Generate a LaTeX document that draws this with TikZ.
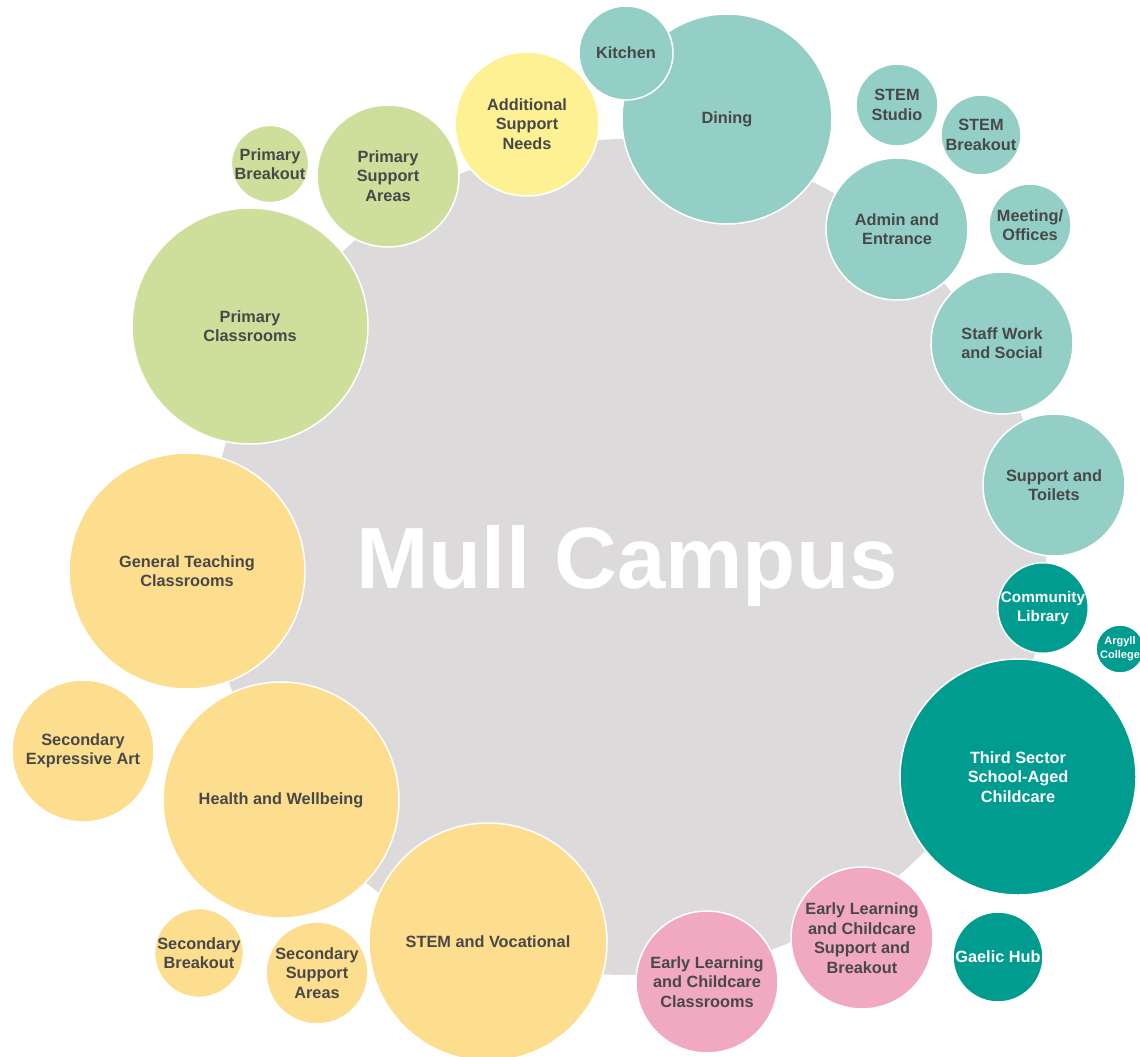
\documentclass[tikz,border=0pt]{standalone}
\usepackage{fontspec}
\setmainfont{Liberation Sans}
\definecolor{campusgrey}{HTML}{DCDADB}
\definecolor{primgreen}{HTML}{CEDF9B}
\definecolor{asnyellow}{HTML}{FDF193}
\definecolor{lightteal}{HTML}{93CFC7}
\definecolor{darkteal}{HTML}{009C90}
\definecolor{secyellow}{HTML}{FDDD8E}
\definecolor{elcpink}{HTML}{F1A9C1}
\definecolor{labelgrey}{HTML}{484848}
\tikzset{
  bubble/.style={circle, draw=white, line width=1.5pt, inner sep=0pt, align=center,
    text=labelgrey, font=\bfseries\fontsize{16.3}{19.5}\selectfont},
  green/.style={bubble, fill=primgreen},
  yellow/.style={bubble, fill=asnyellow},
  lteal/.style={bubble, fill=lightteal},
  dteal/.style={bubble, fill=darkteal, text=white},
  orange/.style={bubble, fill=secyellow},
  pink/.style={bubble, fill=elcpink},
  sz/.style={minimum size=#1*2pt}
}
\begin{document}
\begin{tikzpicture}[x=1pt,y=-1pt]
\useasboundingbox (0,0) rectangle (1140,1057);
\clip (0,0) rectangle (1140,1057);
\fill[white] (0,0) rectangle (1140,1057);
\node[circle, fill=campusgrey, inner sep=0pt, minimum size=836pt] (campus) at (628,557) {};
\node[anchor=base, text=white, font=\bfseries\fontsize{87}{87}\selectfont] (title) at (627,588) {Mull Campus};
% green
\node[green, sz=38] (pb) at (270,164) {Primary\\Breakout};
\node[green, sz=71] (psa) at (388,176) {Primary\\Support\\Areas};
\node[green, sz=118] (pc) at (250,326) {Primary\\Classrooms};
% yellow
\node[yellow, sz=72] (asn) at (527,124) {Additional\\Support\\Needs};
% light teal
\node[lteal, sz=105] (dining) at (727,119) {Dining};
\node[lteal, sz=47] (kitchen) at (626,53) {Kitchen};
\node[lteal, sz=41] (stemstudio) at (897,105) {STEM\\Studio};
\node[lteal, sz=40] (stembreak) at (981,135) {STEM\\Breakout};
\node[lteal, sz=71] (admin) at (897,229) {Admin and\\Entrance};
\node[lteal, sz=41] (meeting) at (1030,225) {Meeting/\\Offices};
\node[lteal, sz=71] (staff) at (1002,343) {Staff Work\\and Social};
\node[lteal, sz=71] (toilets) at (1054,485) {Support and\\Toilets};
% dark teal
\node[dteal, sz=45, font=\bfseries\fontsize{15.3}{19}\selectfont] (library) at (1043,608) {Community\\Library};
\node[dteal, sz=24, font=\bfseries\fontsize{11}{14}\selectfont] (argyll) at (1120,649) {Argyll\\College};
\node[dteal, sz=118] (third) at (1018,777) {Third Sector\\School-Aged\\Childcare};
\node[dteal, sz=45] (gaelic) at (998,957) {Gaelic Hub};
% pink
\node[pink, sz=71] (elcsb) at (862,938) {Early Learning\\and Childcare\\Support and\\Breakout};
\node[pink, sz=71] (elcc) at (707,982) {Early Learning\\and Childcare\\Classrooms};
% orange
\node[orange, sz=118] (gtc) at (187,571) {General Teaching\\Classrooms};
\node[orange, sz=71] (sea) at (83,751) {Secondary\\Expressive Art};
\node[orange, sz=118] (hw) at (281,800) {Health and Wellbeing};
\node[orange, sz=44] (sb) at (199,953) {Secondary\\Breakout};
\node[orange, sz=51] (ssa) at (317,973) {Secondary\\Support\\Areas};
\node[orange, sz=119] (stemv) at (488,942) {STEM and Vocational};
\end{tikzpicture}
\end{document}
